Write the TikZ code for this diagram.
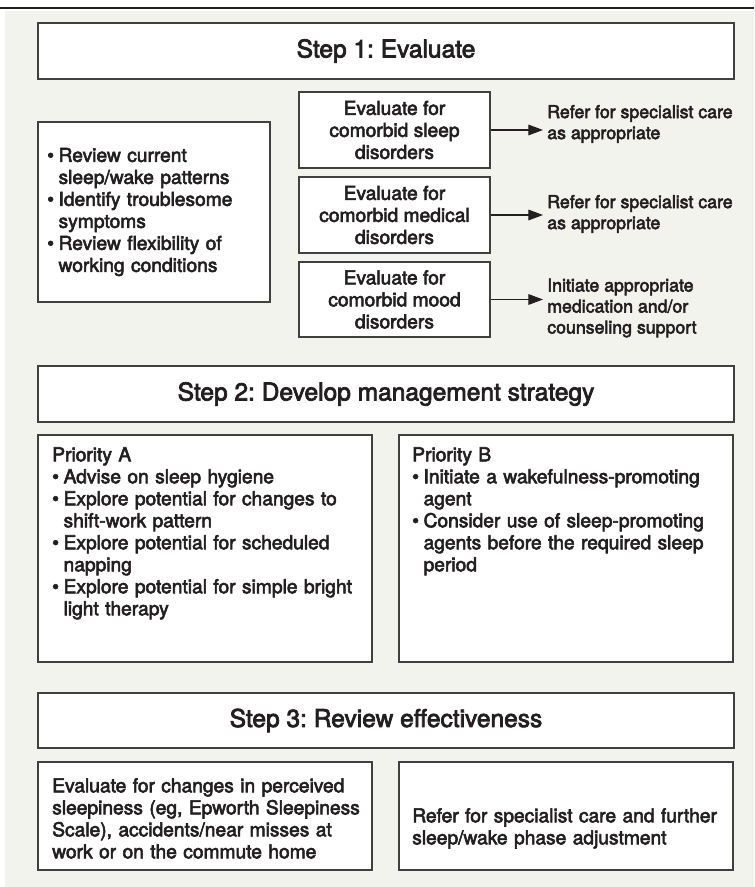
\documentclass[tikz,border=0pt]{standalone}
\usepackage{fontspec}
\usetikzlibrary{fit,arrows.meta}
\newfontfamily\medfont{TeX Gyre Heros}[FakeBold=3]
\frenchspacing
\newcommand\hdrfont{\medfont\fontsize{18.4}{22}\selectfont}
\newcommand\bodyfont{\medfont\fontsize{14.4}{16.5}\selectfont}
\newcommand\sidefont{\medfont\fontsize{13.3}{15.75}\selectfont}
\newcommand\bl[1]{\par\noindent\makebox[8.5pt][l]{\textbullet}#1}
\newcommand\cl[1]{\par\noindent\hspace*{8.5pt}#1}
\definecolor{bgc}{HTML}{F3F3EE}
\definecolor{boxline}{HTML}{404040}
\definecolor{ink}{HTML}{231F20}
\begin{document}
\begin{tikzpicture}[x=0.75pt,y=-0.75pt,
  box/.style={draw=boxline, fill=white, line width=0.8pt, inner sep=0pt},
  hdrtext/.style={inner sep=0pt, font=\hdrfont, text=ink},
  evaltext/.style={inner sep=0pt, font=\bodyfont, text=ink, align=center},
  ltext/.style={inner sep=0pt, font=\bodyfont, text=ink, align=left, text width=240pt},
  side/.style={inner sep=0pt, font=\sidefont, text=ink, align=left},
  arr/.style={draw=ink, line width=0.8pt, -{Triangle[length=11pt,width=8pt]}, shorten >=3pt}]
\useasboundingbox (0,0) rectangle (754,887);
\fill[bgc] (5,11) rectangle (754,887);
\coordinate (tl) at (0,8);
\coordinate (tr) at (754,8);
\draw[line width=1.9pt, ink] (tl) -- (tr);

% Step 1
\node[box, fit={(38,23) (734,79)}] (s1) {};
\node[hdrtext] (s1t) at (s1.center) {Step 1: Evaluate};

\node[box, fit={(38,122) (270,302)}] (lb) {};
\node[ltext, anchor=west, text width=170pt] (lbt) at (47,212) {\noindent\makebox[8.5pt][l]{\textbullet}Review current\cl{sleep/wake patterns}\bl{Identify troublesome}\cl{symptoms}\bl{Review flexibility of}\cl{working conditions}};

\node[box, fit={(299,92) (490,168)}] (e1) {};
\node[box, fit={(299,177) (490,253)}] (e2) {};
\node[box, fit={(299,262) (490,337)}] (e3) {};
\node[evaltext] (e1t) at (e1.center) {Evaluate for\\comorbid sleep\\disorders};
\node[evaltext] (e2t) at (e2.center) {Evaluate for\\comorbid medical\\disorders};
\node[evaltext] (e3t) at (e3.center) {Evaluate for\\comorbid mood\\disorders};

\node[side, anchor=west] (r1) at (547,124) {Refer for specialist care\\as appropriate};
\node[side, anchor=west] (r2) at (547,214) {Refer for specialist care\\as appropriate};
\node[side, anchor=west] (r3) at (547,308) {Initiate appropriate\\medication and/or\\counseling support};

\draw[arr] (e1.east) -- (e1.east -| r1.west);
\draw[arr] (e2.east) -- (e2.east -| r2.west);
\draw[arr] (e3.east) -- (e3.east -| r3.west);

% Step 2
\node[box, fit={(38,366) (734,422)}] (s2) {};
\node[hdrtext] (s2t) at (s2.center) {Step 2: Develop management strategy};
\node[box, fit={(38,435) (372,662)}] (pa) {};
\node[box, fit={(399,435) (733,662)}] (pb) {};
\node[ltext, anchor=north west] (pat) at (52,447) {\noindent Priority A\bl{Advise on sleep hygiene}\bl{Explore potential for changes to}\cl{shift-work pattern}\bl{Explore potential for scheduled}\cl{napping}\bl{Explore potential for simple bright}\cl{light therapy}};
\node[ltext, anchor=north west] (pbt) at (412,447) {\noindent Priority B\bl{Initiate a wakefulness-promoting}\cl{agent}\bl{Consider use of sleep-promoting}\cl{agents before the required sleep}\cl{period}};

% Step 3
\node[box, fit={(38,693) (734,748)}] (s3) {};
\node[hdrtext] (s3t) at (s3.center) {Step 3: Review effectiveness};
\node[box, fit={(38,762) (372,870)}] (ba) {};
\node[box, fit={(399,762) (733,870)}] (bb) {};
\node[ltext, anchor=north west] (bat) at (52,778) {Evaluate for changes in perceived\\sleepiness (eg, Epworth Sleepiness\\Scale), accidents/near misses at\\work or on the commute home};
\node[ltext, anchor=north west] (bbt) at (412,808) {Refer for specialist care and further\\sleep/wake phase adjustment};
\end{tikzpicture}
\end{document}
